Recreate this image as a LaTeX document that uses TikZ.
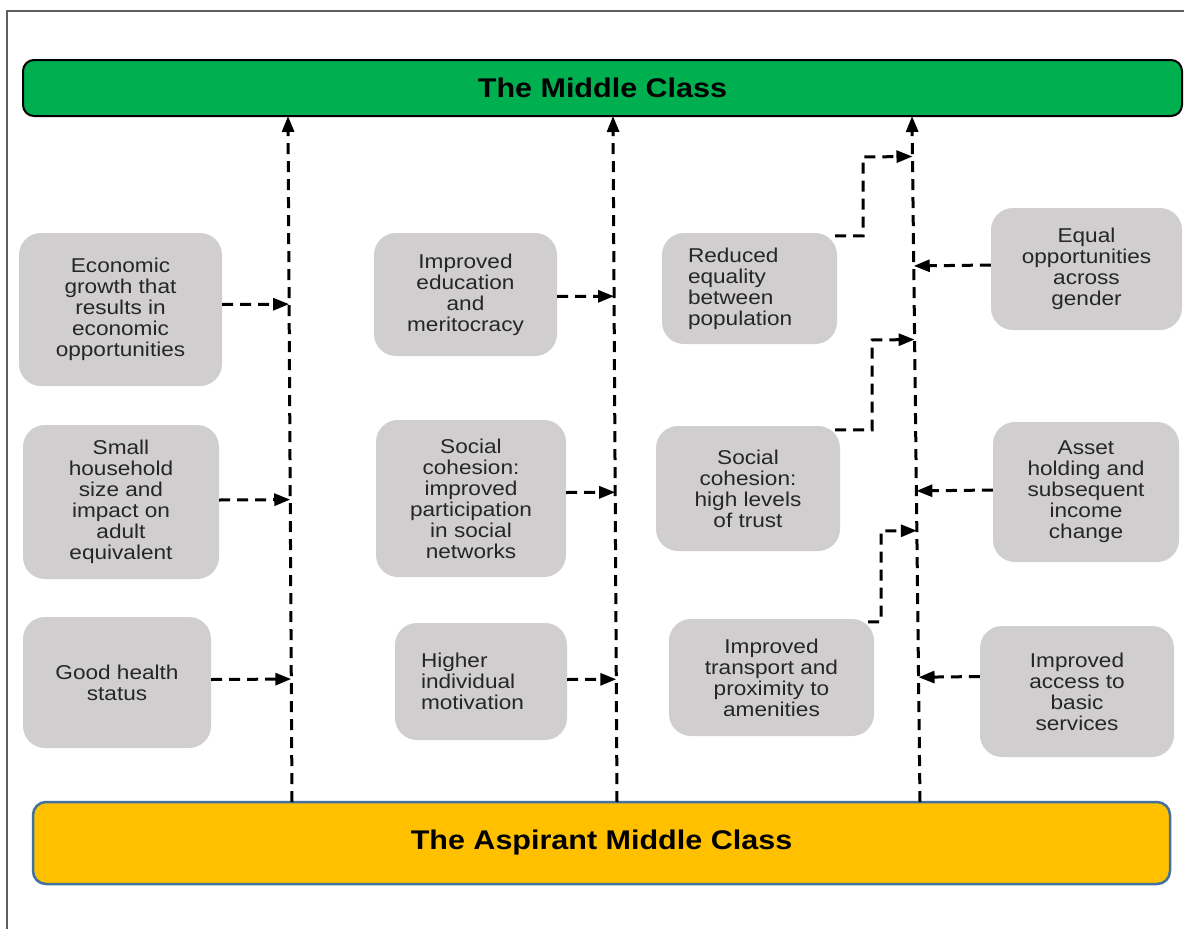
\documentclass[tikz,border=0pt]{standalone}
\usepackage{fontspec}
\usetikzlibrary{arrows.meta,calc}
\newfontfamily\boxfont{Liberation Sans}[FakeStretch=1.13]
\definecolor{midgreen}{HTML}{00B050}
\definecolor{aspyellow}{HTML}{FFC000}
\definecolor{aspedge}{HTML}{41719C}
\definecolor{boxgray}{HTML}{D0CECE}
\definecolor{boxtext}{HTML}{262626}
\definecolor{framegray}{HTML}{5F5F5F}

\begin{document}
\begin{tikzpicture}[x=1pt,y=-1pt,
  factor/.style={fill=boxgray, rounded corners=22pt, text=boxtext,
    font=\boxfont\fontsize{20}{21}\selectfont, align=center, inner sep=0pt},
  factorleft/.style={factor, align=left, inner ysep=0pt, inner xsep=26pt},
  classbar/.style={font=\boxfont\bfseries\fontsize{27}{30}\selectfont, inner sep=0pt, text=black},
  link/.style={dash pattern=on 11pt off 7pt, line width=3pt,
    -{Triangle[length=16pt,width=12pt]}},
]
\useasboundingbox (0,0) rectangle (1184,929);

% page frame
\draw[framegray, line width=1.8pt] (7,929) -- (7,11) -- (1184,11);

% class bars
\node[classbar, fill=midgreen, draw=black, line width=2pt, rounded corners=11pt,
      minimum width=1159pt, minimum height=56pt] (mc) at (602.5,88) {The Middle Class};
\node[classbar, fill=aspyellow, draw=aspedge, line width=2.5pt, rounded corners=13pt,
      minimum width=1137pt, minimum height=82pt] (amc) at (601.5,843) {The Aspirant Middle Class};

% factor boxes, left column
\node[factor, minimum width=203pt, minimum height=153pt] (a1) at (120.5,309.5)
  {Economic\\growth that\\results in\\economic\\opportunities};
\node[factor, minimum width=196pt, minimum height=154pt] (a2) at (121,502)
  {Small\\household\\size and\\impact on\\adult\\equivalent};
\node[factor, minimum width=188pt, minimum height=131pt] (a3) at (117,682.5)
  {Good health\\status};

% middle column
\node[factor, minimum width=183pt, minimum height=123pt] (b1) at (465.5,294.5)
  {Improved\\education\\and\\meritocracy};
\node[factor, minimum width=190pt, minimum height=157pt] (b2) at (471,498.5)
  {Social\\cohesion:\\improved\\participation\\in social\\networks};
\node[factorleft, text width=120pt, minimum height=117pt] (b3) at (481,681.5)
  {Higher\\individual\\motivation};

% right-centre column
\node[factorleft, text width=123pt, minimum height=111pt] (c1) at (749.5,288.5)
  {Reduced\\equality\\between\\population};
\node[factor, minimum width=184pt, minimum height=125pt] (c2) at (748,488.5)
  {Social\\cohesion:\\high levels\\of trust};
\node[factor, minimum width=205pt, minimum height=117pt] (c3) at (771.5,677.5)
  {Improved\\transport and\\proximity to\\amenities};

% right column
\node[factor, minimum width=191pt, minimum height=122pt] (d1) at (1086.5,269)
  {Equal\\opportunities\\across\\gender};
\node[factor, minimum width=186pt, minimum height=140pt] (d2) at (1086,492)
  {Asset\\holding and\\subsequent\\income\\change};
\node[factor, minimum width=194pt, minimum height=131pt] (d3) at (1077,691.5)
  {Improved\\access to\\basic\\services};

% end points of the three upward paths
\coordinate (top1) at (288,116);  \coordinate (bot1) at (292,802);
\coordinate (top2) at (613,116);  \coordinate (bot2) at (617,802);
\coordinate (top3) at (912,116);  \coordinate (bot3) at (920,802);

\draw[link] (bot1) -- (top1);
\draw[link] (bot2) -- (top2);
\draw[link] (bot3) -- (top3);

% left column feeds
\coordinate (sa1) at ($(a1.east)+(0,-5)$);
\coordinate (sa2) at ($(a2.east)+(0,-2)$);
\coordinate (sa3) at ($(a3.east)+(0,-3)$);
\draw[link] (sa1) -- ($(bot1)!(sa1)!(top1)$);
\draw[link] (sa2) -- ($(bot1)!(sa2)!(top1)$);
\draw[link] (sa3) -- ($(bot1)!(sa3)!(top1)$);

% middle column feeds
\coordinate (sb1) at ($(b1.east)+(0,2)$);
\coordinate (sb2) at ($(b2.east)+(0,-6)$);
\coordinate (sb3) at ($(b3.east)+(0,-2)$);
\draw[link] (sb1) -- ($(bot2)!(sb1)!(top2)$);
\draw[link] (sb2) -- ($(bot2)!(sb2)!(top2)$);
\draw[link] (sb3) -- ($(bot2)!(sb3)!(top2)$);

% right-centre feeds, stepped
\coordinate (sc1) at ($(c1.north east)+(-2,3)$);
\coordinate (kc1) at (863,157);
\draw[link] (sc1) -| (kc1) -- ($(bot3)!(kc1)!(top3)$);
\coordinate (sc2) at ($(c2.north east)+(-5,4)$);
\coordinate (kc2) at (872,340);
\draw[link] (sc2) -| (kc2) -- ($(bot3)!(kc2)!(top3)$);
\coordinate (sc3) at ($(c3.north east)+(-6,3)$);
\coordinate (kc3) at (881,531);
\draw[link] (sc3) -| (kc3) -- ($(bot3)!(kc3)!(top3)$);

% right column feeds
\coordinate (sd1) at ($(d1.west)+(0,-4)$);
\coordinate (sd2) at ($(d2.west)+(0,-2)$);
\coordinate (sd3) at ($(d3.west)+(0,-15)$);
\draw[link] (sd1) -- ($(bot3)!(sd1)!(top3)$);
\draw[link] (sd2) -- ($(bot3)!(sd2)!(top3)$);
\draw[link] (sd3) -- ($(bot3)!(sd3)!(top3)$);
\end{tikzpicture}
\end{document}
